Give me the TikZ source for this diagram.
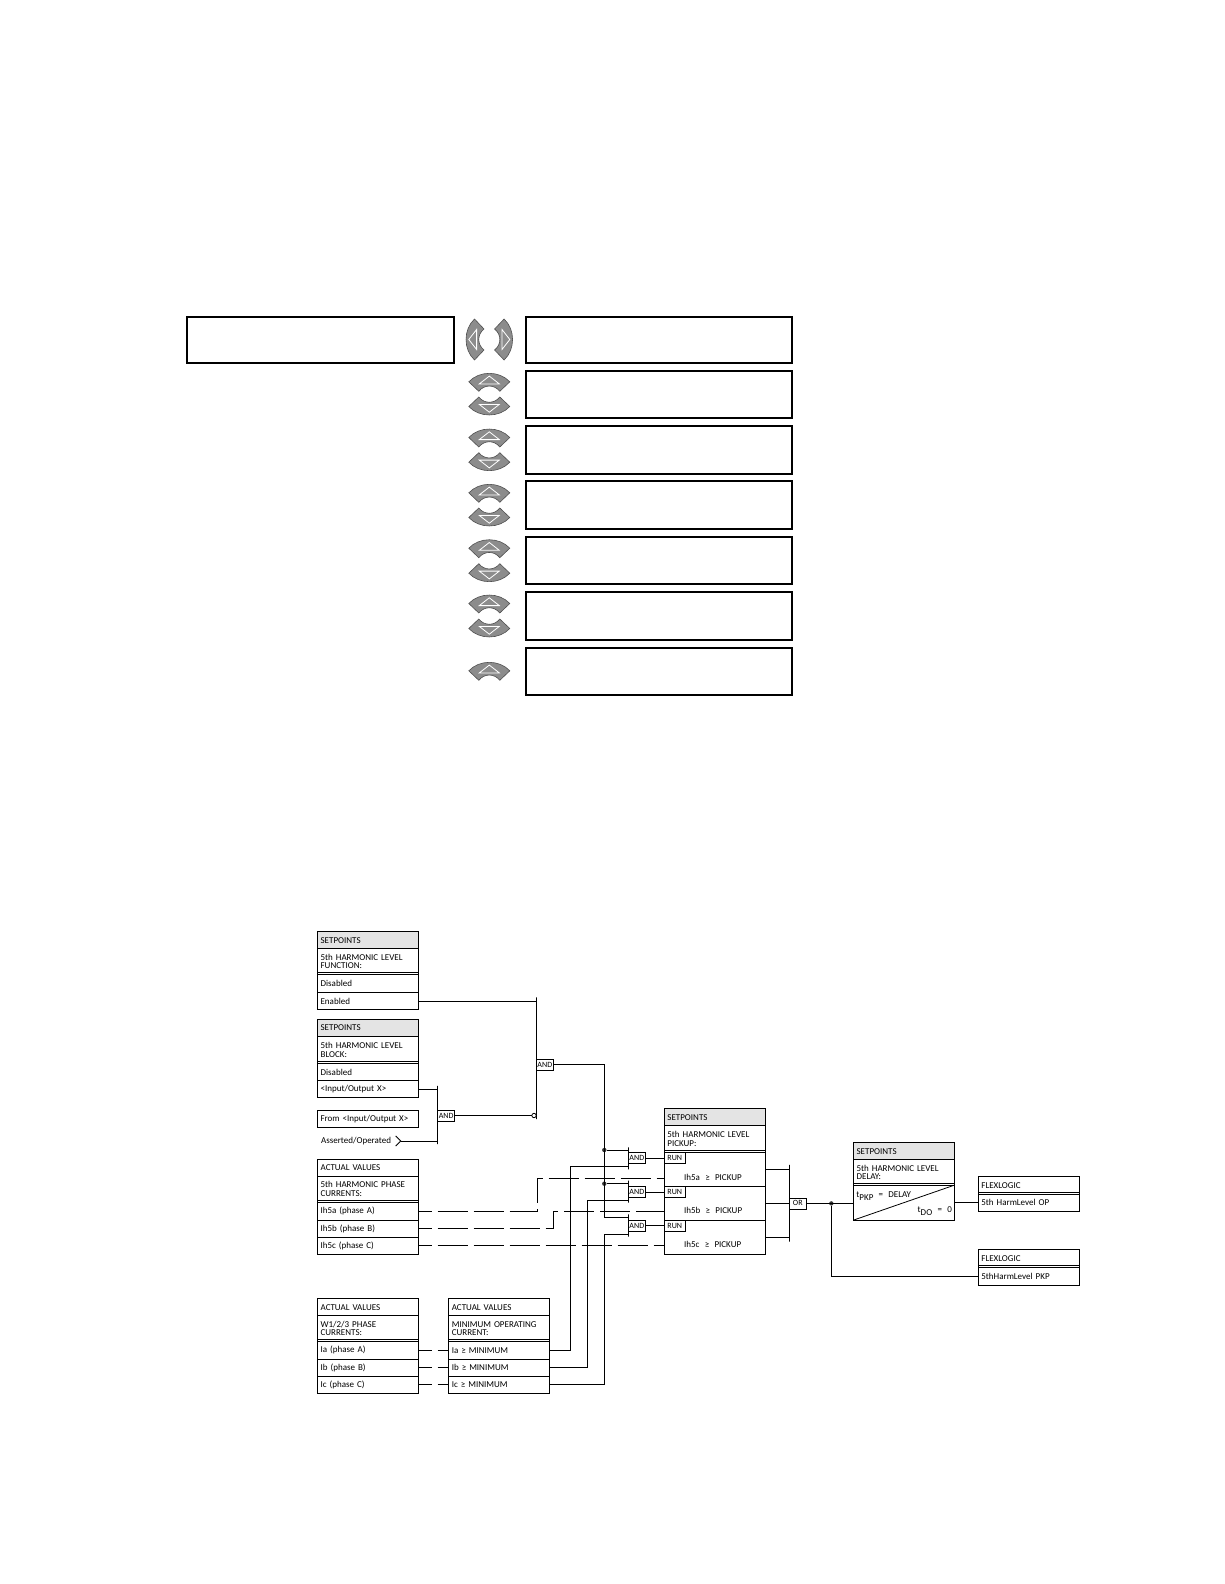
\documentclass[tikz,border=0pt]{standalone}
\usepackage{fontspec}
\setsansfont[WordSpace=2.6]{Carlito}
\usepackage{xcolor}
\usetikzlibrary{positioning,calc}
\definecolor{hdrgray}{HTML}{E4E4E4}
\definecolor{keygray}{HTML}{8C8C8C}
\definecolor{keyedge}{HTML}{505050}
\newcommand{\lowsub}[1]{\raisebox{-3pt}{#1}}
\tikzset{
  keycap/.pic={
    \draw[keyedge,fill=keygray,line width=.6pt] (-20.5,8.5) .. controls (-10,-2.8) and (10,-2.8) .. (20.5,8.5)
      -- (10.5,18) .. controls (5,11) and (-5,11) .. (-10.5,18) -- cycle;
    \draw[white,line width=.8pt] (0,2.8) -- (10,10.6) -- (-10,10.6) -- cycle;
  }
}
\begin{document}
\begin{tikzpicture}[x=1pt,y=-1pt,font=\fontsize{9}{8.6}\selectfont\sffamily,line width=.8pt,
  lcdbox/.style={draw,line width=2.2pt,anchor=north west,minimum width=266.2pt,minimum height=46pt},
  rowbox/.style={draw,outer sep=0pt,minimum width=101pt,minimum height=#1,text width=94.8pt,
    inner xsep=3.1pt,inner ysep=0pt,align=left,anchor=north west},
  rowbox/.default=17pt,
  hdrbox/.style={rowbox=16.8pt,fill=hdrgray},
  plainhdr/.style={rowbox=16.8pt},
  titlebox/.style={rowbox=#1,path picture={\draw ([yshift=1.7pt]path picture bounding box.south west)
    -- ([yshift=1.7pt]path picture bounding box.south east);}},
  titlebox/.default=26pt,
  gatebox/.style={draw,outer sep=0pt,anchor=west,minimum width=17pt,minimum height=11pt,inner sep=0pt,
    font=\fontsize{8}{8.6}\selectfont\sffamily},
  runbox/.style={draw,outer sep=0pt,anchor=west,minimum width=21pt,minimum height=11pt,inner sep=0pt,
    font=\fontsize{8}{8.6}\selectfont\sffamily},
  barnode/.style={draw,outer sep=0pt,inner sep=0pt,minimum width=0pt,minimum height=#1},
  jdot/.style={circle,fill=black!80,inner sep=0pt,minimum size=4.4pt},
  sig/.style={dash pattern=on 30pt off 6pt,dash phase=17pt}]
\useasboundingbox (0,0) rectangle (1224,1584);
% display panels
\node[lcdbox,minimum width=267pt] (lcdMenu) at (185.5,316) {};
\node[lcdbox] (lcdFn) at (524.5,316) {};
\node[lcdbox,minimum height=47pt] (lcdPkp) at (524.5,370) {};
\node[lcdbox,minimum height=48pt] (lcdDly) at (524.5,425) {};
\node[lcdbox,minimum height=48pt] (lcdBlk) at (524.5,480) {};
\node[lcdbox,minimum height=47.5pt] (lcdOut) at (524.5,535.5) {};
\node[lcdbox,minimum height=48pt] (lcdTgt) at (524.5,590.7) {};
\node[lcdbox,minimum height=47.5pt] (lcdEvt) at (524.5,646.5) {};
% keys
\pic[rotate=90] at (466,339.5) {keycap};
\pic[rotate=-90] at (512.6,339.5) {keycap};
\pic at (489.3,373.3) {keycap};
\pic[yscale=-1] at (489.3,415) {keycap};
\pic at (489.3,429) {keycap};
\pic[yscale=-1] at (489.3,470.7) {keycap};
\pic at (489.3,484.3) {keycap};
\pic[yscale=-1] at (489.3,526) {keycap};
\pic at (489.3,539.7) {keycap};
\pic[yscale=-1] at (489.3,581.7) {keycap};
\pic at (489.3,595) {keycap};
\pic[yscale=-1] at (489.3,637) {keycap};
\pic at (489.3,662.3) {keycap};
% setpoint: function
\node[hdrbox] (bxFnHdr) at (317.5,931.7) {SETPOINTS};
\node[titlebox,below=0pt of bxFnHdr] (bxFnTtl) {5th HARMONIC LEVEL\\FUNCTION:};
\node[rowbox=18pt,below=0pt of bxFnTtl] (bxFnDis) {Disabled};
\node[rowbox,below=0pt of bxFnDis] (bxFnEn) {Enabled};
% setpoint: block
\node[hdrbox] (bxBlkHdr) at (317.5,1019.3) {SETPOINTS};
\node[titlebox=27pt,below=0pt of bxBlkHdr] (bxBlkTtl) {5th HARMONIC LEVEL\\BLOCK:};
\node[rowbox=17.6pt,below=0pt of bxBlkTtl] (bxBlkDis) {Disabled};
\node[rowbox,below=0pt of bxBlkDis] (bxBlkIo) {<Input/Output X>};
\node[rowbox] (bxFrom) at (317.5,1110.3) {From <Input/Output X>};
\node[anchor=west,inner xsep=0pt] (txAss) at (320.7,1141) {Asserted/Operated};
\coordinate (chvAss) at (400.7,1141);
% actual values: 5th harmonic
\node[plainhdr] (bxH5Hdr) at (317.5,1159.3) {ACTUAL VALUES};
\node[titlebox,below=0pt of bxH5Hdr] (bxH5Ttl) {5th HARMONIC PHASE\\CURRENTS:};
\node[rowbox=18pt,below=0pt of bxH5Ttl] (bxH5a) {Ih5a (phase A)};
\node[rowbox,below=0pt of bxH5a] (bxH5b) {Ih5b (phase B)};
\node[rowbox,below=0pt of bxH5b] (bxH5c) {Ih5c (phase C)};
% actual values: phase currents
\node[plainhdr] (bxIHdr) at (317.5,1298.7) {ACTUAL VALUES};
\node[titlebox,below=0pt of bxIHdr] (bxITtl) {W1/2/3 PHASE\\CURRENTS:};
\node[rowbox=17.6pt,below=0pt of bxITtl] (bxIa) {Ia (phase A)};
\node[rowbox,below=0pt of bxIa] (bxIb) {Ib (phase B)};
\node[rowbox,below=0pt of bxIb] (bxIc) {Ic (phase C)};
% actual values: minimum
\node[plainhdr] (bxMinHdr) at (448.7,1298.7) {ACTUAL VALUES};
\node[titlebox,below=0pt of bxMinHdr] (bxMinTtl) {MINIMUM OPERATING\\CURRENT:};
\node[rowbox=17.6pt,below=0pt of bxMinTtl] (bxMinA) {Ia ≥ MINIMUM};
\node[rowbox,below=0pt of bxMinA] (bxMinB) {Ib ≥ MINIMUM};
\node[rowbox,below=0pt of bxMinB] (bxMinC) {Ic ≥ MINIMUM};
% pickup element
\node[hdrbox] (bxPkHdr) at (664.3,1108.7) {SETPOINTS};
\node[titlebox=26.6pt,below=0pt of bxPkHdr] (bxPkTtl) {5th HARMONIC LEVEL\\PICKUP:};
\node[rowbox=34.2pt,below=0pt of bxPkTtl] (bxPkA) {};
\node[rowbox=34pt,below=0pt of bxPkA] (bxPkB) {};
\node[rowbox=34pt,below=0pt of bxPkB] (bxPkC) {};
\node[runbox] (bxRunA) at (664.3,1157.9) {RUN};
\node[runbox] (bxRunB) at (664.3,1191.9) {RUN};
\node[runbox] (bxRunC) at (664.3,1225.8) {RUN};
\node[anchor=west,inner xsep=0pt] (txPkA) at (683.7,1177.3) {Ih5a ≥ PICKUP};
\node[anchor=west,inner xsep=0pt] (txPkB) at (683.7,1210.7) {Ih5b ≥ PICKUP};
\node[anchor=west,inner xsep=0pt] (txPkC) at (683.7,1244.3) {Ih5c ≥ PICKUP};
% delay element
\node[hdrbox] (bxDlyHdr) at (853.5,1142.7) {SETPOINTS};
\node[titlebox=25.6pt,below=0pt of bxDlyHdr] (bxDlyTtl) {5th HARMONIC LEVEL\\DELAY:};
\node[rowbox=35pt,below=0pt of bxDlyTtl] (bxDlyRow) {};
\draw (bxDlyRow.south west) -- (bxDlyRow.north east);
\node[anchor=west,inner xsep=0pt] (txPkp) at (856,1196) {t\lowsub{PKP} = DELAY};
\node[anchor=west,inner xsep=0pt] (txDo) at (917.3,1210.7) {t\lowsub{DO} = 0};
% outputs
\node[titlebox=17.3pt] (bxOpHdr) at (978.3,1176.7) {FLEXLOGIC};
\node[rowbox,below=0pt of bxOpHdr] (bxOpVal) {5th HarmLevel OP};
\node[titlebox=17.3pt] (bxPuHdr) at (978.3,1249.7) {FLEXLOGIC};
\node[rowbox=18pt,below=0pt of bxPuHdr] (bxPuVal) {5thHarmLevel PKP};
% gates
\node[barnode=58.3pt] (barBlk) at (437.7,1114.9) {};
\node[gatebox] (gtBlk) at (437.7,1115.5) {AND};
\node[barnode=121.7pt] (barEn) at (536.3,1058.2) {};
\node[gatebox] (gtEn) at (536.3,1064.5) {AND};
\node[circle,draw,inner sep=0pt,minimum size=4.4pt,outer sep=0pt] (negBlk) at (534,1115.5) {};
\node[barnode=22pt] (barA) at (628.3,1158.3) {};
\node[gatebox] (gtA) at (628.3,1157.9) {AND};
\node[barnode=22pt] (barB) at (628.3,1191.7) {};
\node[gatebox] (gtB) at (628.3,1191.9) {AND};
\node[barnode=22.4pt] (barC) at (628.3,1225.5) {};
\node[gatebox] (gtC) at (628.3,1225.8) {AND};
\node[barnode=76.7pt] (barOr) at (789.3,1203.3) {};
\node[gatebox] (gtOr) at (789.3,1203.4) {OR};
% left side wiring
\draw (bxFnEn.east) -- (bxFnEn.east -| barEn);
\draw (bxBlkIo.east) -- (bxBlkIo.east -| barBlk);
\draw ($(chvAss)+(-5,-5)$) -- (chvAss) -- ($(chvAss)+(-5,5)$);
\draw (chvAss) -- (chvAss -| barBlk);
\draw (gtBlk.east) -- (negBlk.west);
\coordinate (lanH5a) at (537.3,1178.3);
\coordinate (lanH5b) at (553.7,1211.3);
\draw[sig] (bxH5a.east) -| (lanH5a) -- (lanH5a -| bxPkA.west);
\draw[sig] (bxH5b.east) -| (lanH5b) -- (lanH5b -| bxPkB.west);
\draw[sig] (bxH5c.east) -- (bxH5c.east -| bxPkC.west);
\draw[sig] (bxIa.east) -- (bxIa.east -| bxMinA.west);
\draw[sig] (bxIb.east) -- (bxIb.east -| bxMinB.west);
\draw[sig] (bxIc.east) -- (bxIc.east -| bxMinC.west);
% enable rail and gate inputs
\node[jdot] (jdA) at (604.3,1150) {};
\node[jdot] (jdB) at (604.3,1183.7) {};
\coordinate (jnC) at (604.3,1217.3);
\draw (gtEn.east) -| (jnC) -- (jnC -| barC);
\draw (jdA) -- (jdA -| barA);
\draw (jdB) -- (jdB -| barB);
\coordinate (lanMinA) at (570,1166);
\coordinate (lanMinB) at (587.3,1200.3);
\coordinate (lanMinC) at (604.3,1234.3);
\draw (bxMinA.east) -| (lanMinA) -- (lanMinA -| barA);
\draw (bxMinB.east) -| (lanMinB) -- (lanMinB -| barB);
\draw (bxMinC.east) -| (lanMinC) -- (lanMinC -| barC);
\draw (gtA.east) -- (bxRunA.west);
\draw (gtB.east) -- (bxRunB.west);
\draw (gtC.east) -- (bxRunC.west);
% output wiring
\draw (bxPkA.east) -- (bxPkA.east -| barOr);
\draw (bxPkB.east) -- (bxPkB.east -| barOr);
\draw (bxPkC.east) -- (bxPkC.east -| barOr);
\node[jdot] (jdOr) at (831.3,1203.4) {};
\draw (gtOr.east) -- (gtOr.east -| bxDlyRow.west);
\draw (bxDlyRow.east) -- (bxDlyRow.east -| bxOpVal.west);
\draw (jdOr) |- (bxPuVal.west);
\end{tikzpicture}
\end{document}
